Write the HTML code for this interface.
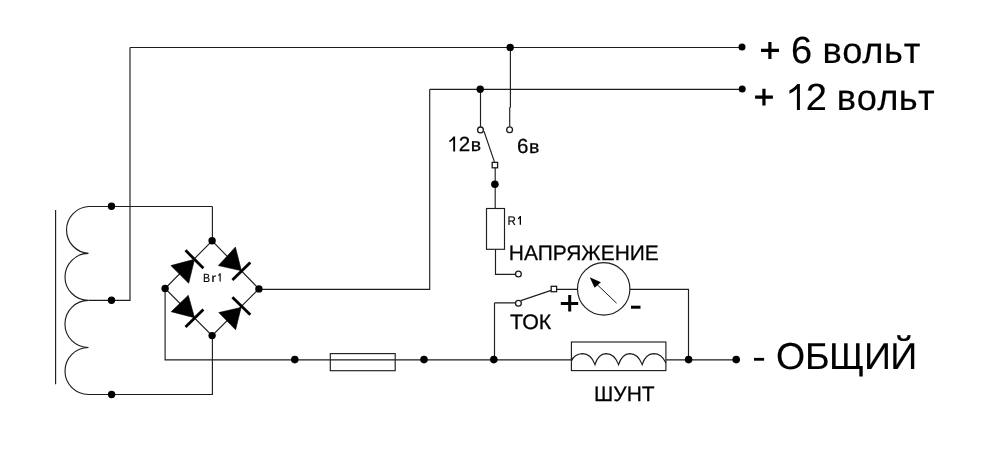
<!DOCTYPE html>
<html><head><meta charset="utf-8">
<style>
html,body{margin:0;padding:0;background:#fff;width:1000px;height:470px;overflow:hidden}
svg{display:block;will-change:transform}
text{font-family:"Liberation Sans",sans-serif;fill:#000;text-rendering:geometricPrecision}
</style></head><body>
<svg width="1000" height="470" viewBox="0 0 1000 470">
<rect width="1000" height="470" fill="#fff"/>
<g fill="none" stroke="#1e1e1e" stroke-width="1.15">
<!-- top +6 wire -->
<path d="M130,47.5 H742 M130,47.5 V300.4 H88.5"/>
<path d="M510.4,47.5 V107 L509.7,108 V126.5"/>
<!-- +12 wire -->
<path d="M429.7,89.3 H742 M429.7,89.3 V289.3 H259"/>
<path d="M480.5,89.3 V126.8"/>
<!-- switch 1 -->
<path d="M484,131.2 L494.6,162.4"/>
<path d="M495.2,168 V208.5"/>
<rect x="486.5" y="208.5" width="18" height="40.8"/>
<path d="M495.5,249.3 V274.3 H515.4"/>
<path d="M494.5,302.9 H515.4 M494.5,302.9 V359.8"/>
<path d="M520.8,300.6 L551.2,290.4"/>
<path d="M556.8,289.3 H577.5 M629.8,289.3 H688.5 V359.8"/>
<circle cx="603.7" cy="288.9" r="26.2"/>
<path d="M616.6,303.2 L596.5,284" stroke-width="1"/>
<!-- bottom wire -->
<path d="M165.1,288.5 V359.8 H571.5 M666,359.8 H736"/>
<rect x="330.3" y="353.6" width="64.9" height="17.1"/>
<rect x="571.4" y="342" width="94.5" height="28.6"/>
<path d="M571.4,361 Q574,354 582.6,353.6 Q591,353.6 595,364.6 Q598,354 606.2,353.6 Q614.5,353.6 618.6,364.6 Q621.8,354 629.9,353.6 Q638,353.6 642.2,364.6 Q645.4,354 653.6,353.6 Q661.8,353.6 666,363"/>
<!-- transformer -->
<path d="M55.6,210 V384.2"/>
<path d="M212.4,206.5 H88.5 A23.5,23.5 0 0 0 88.5,253.4 A23.5,23.5 0 0 0 88.5,300.4 A23.5,23.5 0 0 0 88.5,347.5 A23.5,23.5 0 0 0 88.5,394.5 H212.4 V335.5"/>
<path d="M212.4,206.5 V240.7"/>
<!-- bridge -->
<path d="M212.1,240.8 L165.1,288.5 L212.1,335.6 L258.9,288.9 Z"/>
</g>
<!-- switch circles/squares -->
<g fill="#fff" stroke="#1a1a1a" stroke-width="1.3">
<circle cx="480.5" cy="129.9" r="2.9"/>
<circle cx="509.6" cy="129.7" r="2.9"/>
<rect x="492.2" y="162.4" width="5.4" height="5.4"/>
<circle cx="518.4" cy="274" r="2.9"/>
<circle cx="518.4" cy="303.3" r="2.9"/>
<rect x="551.2" y="286.3" width="5.4" height="5.4"/>
</g>
<!-- dots -->
<g fill="#000">
<circle cx="510.2" cy="47.4" r="3.7"/>
<circle cx="742" cy="47" r="3.5"/>
<circle cx="480.2" cy="89.2" r="3.7"/>
<circle cx="742.2" cy="89" r="3.5"/>
<circle cx="494.9" cy="184.2" r="3.8"/>
<circle cx="111.5" cy="206.3" r="3.7"/>
<circle cx="111.5" cy="300.3" r="3.7"/>
<circle cx="111.6" cy="394.5" r="3.7"/>
<circle cx="212.1" cy="240.8" r="3.7"/>
<circle cx="165.1" cy="288.5" r="3.7"/>
<circle cx="258.9" cy="288.9" r="3.7"/>
<circle cx="212.1" cy="335.6" r="3.7"/>
<circle cx="294.8" cy="359.6" r="3.8"/>
<circle cx="424" cy="359.6" r="3.8"/>
<circle cx="493.8" cy="359.6" r="3.8"/>
<circle cx="688.6" cy="359.6" r="3.8"/>
<circle cx="736.2" cy="359.6" r="3.8"/>
<!-- arrow head -->
<path d="M589.7,277.2 L600.9,282.2 L594.6,287.8 Z"/>
</g>
<!-- diodes -->
<g fill="#000" stroke="#000">
<path d="M170.9,265.6 L188.7,283.3 L194.5,259.3 Z" stroke-width="0.6"/>
<path d="M185.5,250.3 L203.4,268.2" stroke-width="2.8"/>
<path d="M235.4,247.1 L218.4,265.6 L241.4,270.7 Z" stroke-width="0.6"/>
<path d="M232.4,279.9 L250.3,262.4" stroke-width="2.8"/>
<path d="M188.3,295.3 L171.2,311.7 L194.5,317.7 Z" stroke-width="0.6"/>
<path d="M185.5,327 L203.4,309.4" stroke-width="2.8"/>
<path d="M218.8,312.6 L235.6,329.8 L241.1,307.4 Z" stroke-width="0.6"/>
<path d="M232.4,297.2 L250.3,314.7" stroke-width="2.8"/>
</g>
<!-- meter +/- -->
<g stroke="#000" stroke-width="3">
<path d="M560.8,303.5 H578.2 M569.7,295 V311.4"/>
<path d="M631,307.2 H640.5"/>
</g>
<!-- labels -->
<g stroke="#000" stroke-width="0.15">
<text x="790.92" y="63.2" font-size="38">6</text>
<text x="822.4 842.35 862.36 883.9 903.71" y="63.2" font-size="36.3">вольт</text>
<text x="805.72" y="110" font-size="38">2</text>
<text x="836.7 856.7 877.25 898.8 917.88" y="109.6" font-size="36.3">вольт</text>
<text x="775.95 804.98 828.98 863.88 890.28" y="368.5" font-size="37.5">ОБЩИЙ</text>
</g>
<rect x="754" y="357.9" width="10.1" height="2.8" fill="#000"/>
<path d="M761,50.3 H779 M769.9,41.9 V58.9 M755.1,97.2 H772.9 M763.95,88.8 V105.5" stroke="#000" stroke-width="3.2"/>
<path d="M799.9,110 H796.9 V88.8 C794.5,91 792,92.7 789.4,93.8 V90.4 C792.8,88.6 795.5,86.3 797.3,83.9 H799.9 Z" fill="#000"/>
<g stroke="#000" stroke-width="0.25">
<text x="458.8" y="151.4" font-size="20.5">2</text>
<text transform="translate(470.8,151.4) scale(1.05,1)" font-size="18.5">в</text>
<text x="517.0" y="153.25" font-size="20.5">6</text>
<text transform="translate(529.1,153.25) scale(1.05,1)" font-size="18.5">в</text>
<text transform="translate(508.85,260) scale(0.997,1)" font-size="21">НАПРЯЖЕНИЕ</text>
<text transform="translate(510.1,328.6) scale(1.019,1)" font-size="21">ТОК</text>
<text transform="translate(594.05,401.3)" font-size="21">ШУНТ</text>
</g>
<path d="M455.1,151.5 H453.2 V139.4 C452,140.6 450.7,141.6 449.3,142.3 V140.4 C451,139.4 452.5,137.9 453.5,136.4 H455.1 Z" fill="#000"/>
<g fill="#222" stroke="#222" stroke-width="0.15">
<text transform="translate(203.05,281.6) scale(0.88,1)" font-size="12">B</text>
<text transform="translate(211.2,281.6) scale(1.25,1)" font-size="12">r</text>
<path d="M220.8,281.6 H219.5 V275.3 L218.2,276.3 V275 L219.6,273.2 H220.8 Z" stroke="none"/>
</g>
<text transform="translate(507.45,224.8) scale(0.93,1)" font-size="12.5" stroke="#000" stroke-width="0.12">R</text>
<path d="M521,224.8 H519.7 V218.3 L517.9,219.6 V218.2 L519.9,216 H521 Z" fill="#000"/>
</svg>
</body></html>
